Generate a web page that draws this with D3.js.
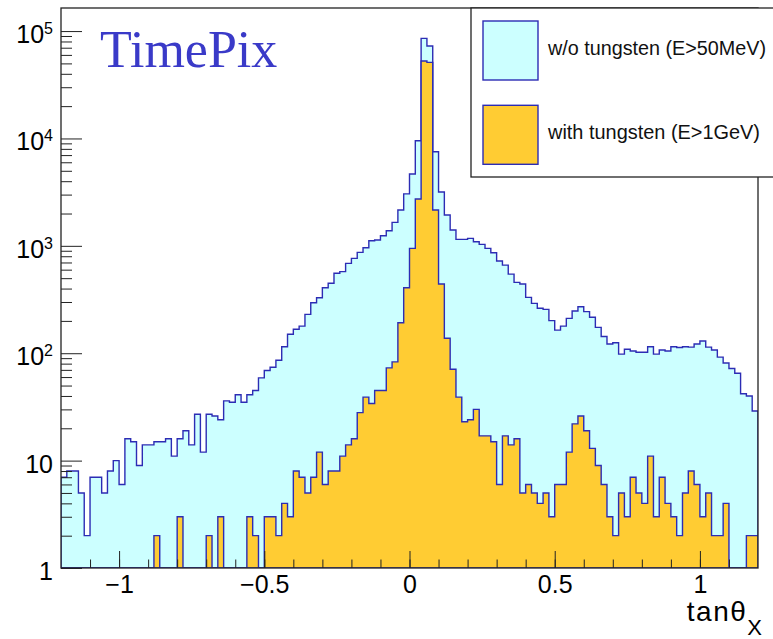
<!DOCTYPE html>
<html>
<head>
<meta charset="utf-8">
<script src="https://cdn.jsdelivr.net/npm/d3@7"></script>
<style>
  body { margin: 0; background: #fff; }
  svg { display: block; }
  text { font-family: "Liberation Sans", Arial, Helvetica, sans-serif; fill: #000; }
</style>
</head>
<body>
<svg id="chart" width="773" height="639"></svg>
<script>
// 120 bins of width 0.02 on [-1.2, 1.2]
const binLow = -1.2;
const binWidth = 0.02;

// counts per bin
const countsNoTungsten = [
  7, 8, 8, 5, 2, 7, 7, 5, 8, 10,
  6, 16, 15, 9, 14, 14, 15, 15, 16, 11,
  16, 19, 14, 27, 12, 27, 26, 24, 36, 35,
  41, 35, 41, 45, 59, 69, 74, 86, 115, 150,
  167, 179, 230, 295, 329, 407, 448, 555, 575, 687,
  765, 869, 960, 1116, 1133, 1242, 1383, 1655, 2155, 3050,
  4660, 9520, 85500, 72500, 7520, 3170, 1937, 1403, 1149, 1149,
  1173, 1092, 1032, 947, 862, 722, 662, 545, 457, 441,
  331, 291, 262, 256, 201, 164, 179, 211, 247, 271,
  244, 216, 174, 143, 122, 125, 98, 109, 105, 102,
  102, 115, 98, 107, 105, 115, 113, 115, 114, 122,
  130, 114, 107, 92, 81, 72, 65, 42, 40, 29
];
const countsTungsten = [
  0, 0, 0, 0, 0, 0, 0, 0, 0, 0,
  0, 0, 0, 0, 0, 0, 2, 0, 0, 0,
  3, 0, 0, 0, 0, 2, 0, 3, 0, 0,
  0, 0, 3, 2, 0, 3, 3, 2, 4, 3,
  8, 7, 5, 7, 12, 6, 8, 8, 11, 14,
  16, 28, 39, 34, 45, 45, 73, 83, 192, 407,
  947, 2729, 52600, 51100, 2155, 441, 138, 71, 39, 23,
  24, 30, 17, 17, 15, 6, 17, 14, 16, 5,
  6, 5, 4, 5, 3, 6, 6, 12, 22, 26,
  19, 13, 9, 6, 3, 2, 5, 3, 7, 5,
  4, 11, 3, 7, 4, 3, 2, 5, 8, 6,
  3, 5, 2, 2, 4, 0, 0, 0, 2, 2
];

const xTicksMajor = [-1, -0.5, 0, 0.5, 1];
const yTicksMajor = [1, 10, 1e2, 1e3, 1e4, 1e5];
const seriesNames = ["w/o tungsten (E>50MeV)", "with tungsten (E>1GeV)"];
const seriesFill = ["#ccffff", "#ffcc33"];
const lineColor = "#2c2cb4";

const plot = {left: 61, right: 758, top: 8, bottom: 568};

const svg = d3.select("#chart");

const x = d3.scaleLinear().domain([-1.2, 1.2]).range([plot.left, plot.right]);
const y = d3.scaleLog().domain([1, 1.64e5]).range([plot.bottom, plot.top]);

svg.append("defs").append("clipPath").attr("id", "plot-clip")
  .append("rect")
  .attr("x", plot.left).attr("y", plot.top)
  .attr("width", plot.right - plot.left).attr("height", plot.bottom - plot.top);

// step outline of a histogram, closed along the bottom of the frame
function histPath(counts){
  const y0 = y.range()[0];
  const p = d3.path();
  p.moveTo(x(binLow), y0);
  counts.forEach((c, i) => {
    const yy = c > 0 ? y(c) : y0;
    p.lineTo(x(binLow + i * binWidth), yy);
    p.lineTo(x(binLow + (i + 1) * binWidth), yy);
  });
  p.lineTo(x(binLow + counts.length * binWidth), y0);
  p.closePath();
  return p.toString();
}

const hg = svg.append("g").attr("clip-path", "url(#plot-clip)");
[countsNoTungsten, countsTungsten].forEach((counts, k) => {
  hg.append("path")
    .attr("d", histPath(counts))
    .attr("fill", seriesFill[k])
    .attr("stroke", lineColor)
    .attr("stroke-width", 1.4)
    .attr("stroke-linejoin", "miter");
});

// title
svg.append("text")
  .attr("x", 100).attr("y", 67)
  .style("font-family", "'Liberation Serif', 'Times New Roman', serif")
  .style("font-size", "52px")
  .style("fill", "#3a3ac8")
  .text("TimePix");

// x axis: minor then major ticks, pointing into the frame
const xMinor = d3.range(-11, 12).map(i => i / 10);
svg.append("g")
  .attr("transform", `translate(0,${plot.bottom})`)
  .call(d3.axisBottom(x).tickValues(xMinor).tickSize(-8.5).tickFormat(""))
  .call(g => g.select(".domain").remove())
  .call(g => g.selectAll("line").attr("stroke", "#222"));

const xAxis = svg.append("g")
  .attr("transform", `translate(0,${plot.bottom})`)
  .call(d3.axisBottom(x).tickValues(xTicksMajor).tickSize(-17).tickPadding(7)
    .tickFormat(d => (d < 0 ? "\u2212" : "") + Math.abs(d)));
xAxis.select(".domain").remove();
xAxis.selectAll("line").attr("stroke", "#222");
xAxis.selectAll("text").style("font-size", "25px").attr("font-family", null);

// y axis
const yMinor = [];
for (let d = 0; d <= 5; d++) {
  for (let k = 2; k <= 9; k++) {
    const v = k * Math.pow(10, d);
    if (v < y.domain()[1]) yMinor.push(v);
  }
}
svg.append("g")
  .attr("transform", `translate(${plot.left},0)`)
  .call(d3.axisLeft(y).tickValues(yMinor).tickSize(-11).tickFormat(""))
  .call(g => g.select(".domain").remove())
  .call(g => g.selectAll("line").attr("stroke", "#222"));

const yAxis = svg.append("g")
  .attr("transform", `translate(${plot.left},0)`)
  .call(d3.axisLeft(y).tickValues(yTicksMajor).tickSize(-21).tickPadding(8).tickFormat(""));
yAxis.select(".domain").remove();
yAxis.selectAll("line").attr("stroke", "#222");
yAxis.selectAll(".tick text").each(function(d){
  const t = d3.select(this)
    .attr("dy", "0.46em")
    .style("font-size", "25px")
    .attr("font-family", null);
  const e = Math.round(Math.log10(d));
  if (e < 2) {
    t.text(String(d));
  } else {
    t.text(null);
    t.append("tspan").text("10");
    t.append("tspan").attr("dy", -9).style("font-size", "16px").text(String(e));
  }
});

// frame
svg.append("rect")
  .attr("x", plot.left).attr("y", plot.top)
  .attr("width", plot.right - plot.left).attr("height", plot.bottom - plot.top)
  .attr("fill", "none").attr("stroke", "#222").attr("stroke-width", 1.3);

// x title
const xt = svg.append("text")
  .attr("x", 762).attr("y", 621)
  .attr("text-anchor", "end");
xt.append("tspan").style("font-size", "28px").attr("letter-spacing", "1.5px").text("tan\u03b8");
xt.append("tspan").attr("dy", 14).style("font-size", "22px").text("X");

// legend
const lg = svg.append("g");
lg.append("rect")
  .attr("x", 471).attr("y", 8)
  .attr("width", 340).attr("height", 169)
  .attr("fill", "#fff").attr("stroke", "#222").attr("stroke-width", 1.3);
const legendTextWidth = [218, 212];
seriesNames.forEach((name, k) => {
  const top = 21 + k * 84.3;
  lg.append("rect")
    .attr("x", 483).attr("y", top)
    .attr("width", 55).attr("height", 59)
    .attr("fill", seriesFill[k])
    .attr("stroke", lineColor).attr("stroke-width", 1.4);
  const t = lg.append("text")
    .attr("x", 548).attr("y", top + 34)
    .style("font-size", "20px")
    .style("fill", "#111")
    .text(name);
  // keep the label inside the window
  if (t.node().getComputedTextLength() > legendTextWidth[k]) {
    t.attr("textLength", legendTextWidth[k]).attr("lengthAdjust", "spacingAndGlyphs");
  }
});
</script>
</body>
</html>
